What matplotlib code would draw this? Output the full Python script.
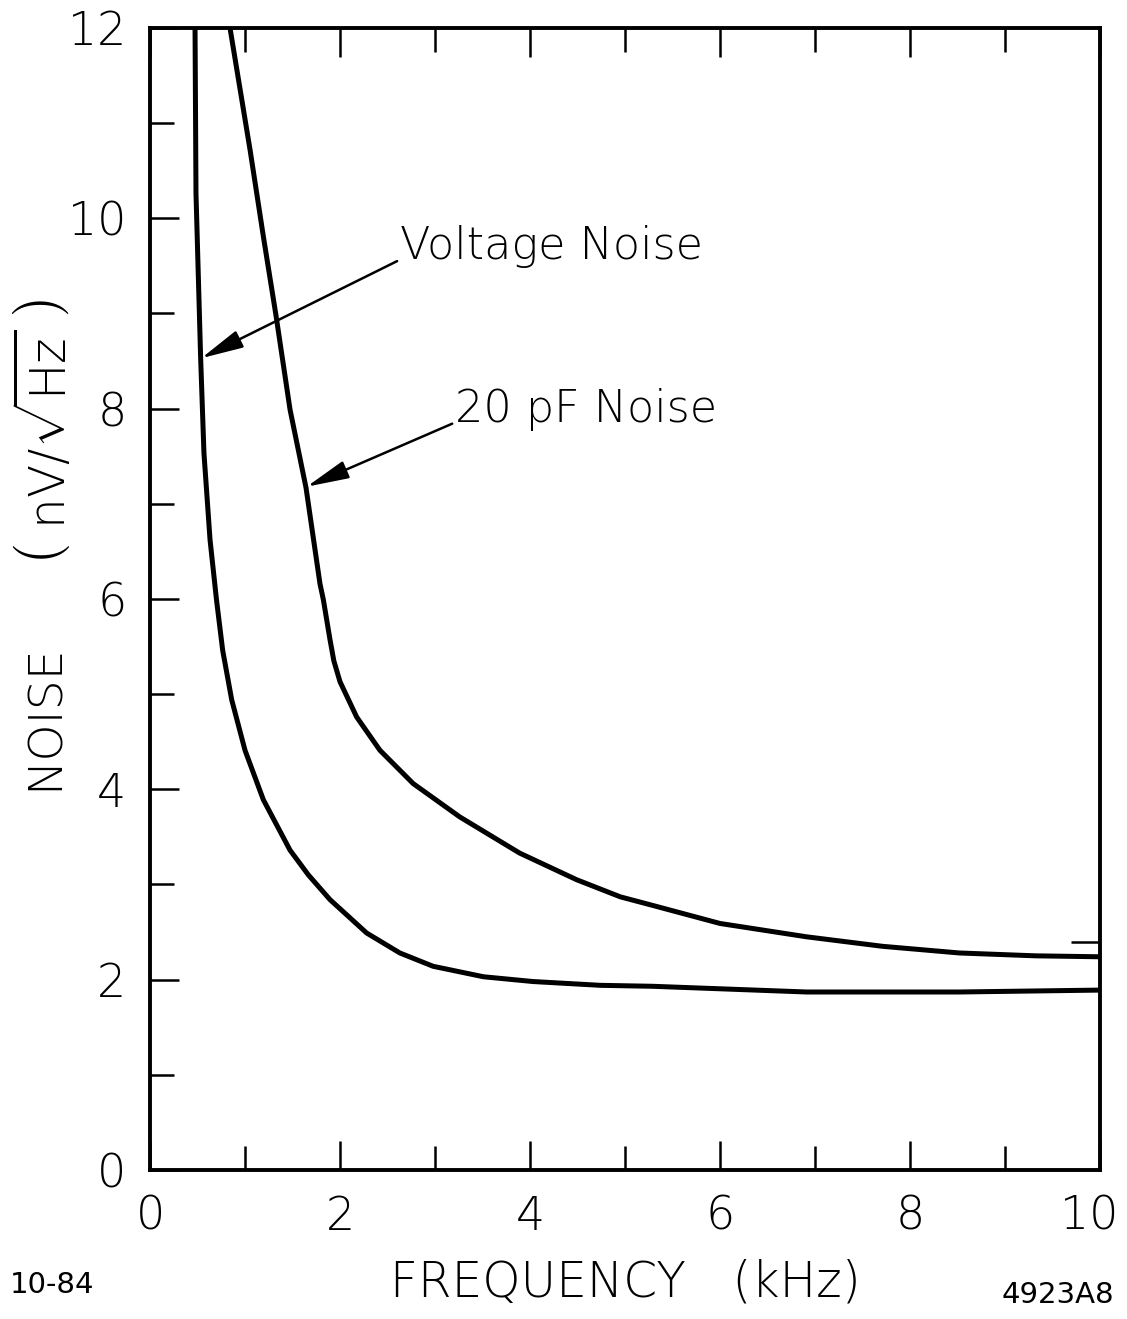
import numpy as np
import matplotlib.pyplot as plt
from matplotlib.transforms import ScaledTranslation

plt.switch_backend('Agg')
plt.rcParams['font.family'] = ['DejaVu Sans']
plt.rcParams['mathtext.fontset'] = 'custom'
plt.rcParams['mathtext.rm'] = 'DejaVu Sans:light'
plt.rcParams['mathtext.it'] = 'DejaVu Sans:light'

# Noise spectral density (kHz, nV/sqrt(Hz))
volt_freq = [0.474, 0.484, 0.533, 0.568, 0.632, 0.70, 0.765, 0.86, 1.0, 1.193,
             1.474, 1.667, 1.895, 2.28, 2.63, 2.98, 3.51, 4.03, 4.74, 5.29,
             6.91, 8.52, 10.0]
volt_noise = [12.0, 10.26, 8.53, 7.53, 6.62, 5.99, 5.46, 4.94, 4.41, 3.89,
              3.36, 3.10, 2.84, 2.49, 2.28, 2.14, 2.03, 1.98, 1.94, 1.93,
              1.87, 1.87, 1.89]

cap_freq = [0.842, 1.053, 1.193, 1.326, 1.474, 1.642, 1.789, 1.825, 1.895, 1.935,
            2.0, 2.175, 2.245, 2.42, 2.77, 3.26, 3.89, 4.49, 4.95, 5.29,
            6.0, 6.91, 7.71, 8.52, 9.32, 10.0]
cap_noise = [12.0, 10.72, 9.81, 8.98, 7.99, 7.17, 6.16, 5.99, 5.57, 5.35,
             5.13, 4.76, 4.66, 4.41, 4.06, 3.71, 3.33, 3.05, 2.87, 2.78,
             2.59, 2.45, 2.35, 2.28, 2.25, 2.24]

x_ticks = [0, 2, 4, 6, 8, 10]
y_ticks = [0, 2, 4, 6, 8, 10, 12]
x_minor = [1, 3, 5, 7, 9]
y_minor = [1, 3, 5, 7, 9, 11]
right_extra = [2.4]

fig = plt.figure(figsize=(11.27, 13.19), dpi=100)
ax = fig.add_axes([0.1331, 0.1130, 0.8430, 0.8658])

ax.plot(volt_freq, volt_noise, color='black', lw=3.6, solid_joinstyle='round')
ax.plot(cap_freq, cap_noise, color='black', lw=3.6, solid_joinstyle='round')

ax.set_xlim(0, 10)
ax.set_ylim(0, 12)
ax.set_xticks(x_ticks)
ax.set_yticks(y_ticks)
ax.set_xticks(x_minor, minor=True)
ax.set_yticks(y_minor, minor=True)
ax.set_xticklabels([str(v) for v in x_ticks])
ax.set_yticklabels([str(v) for v in y_ticks])

for side in ax.spines.values():
    side.set_linewidth(2.8)

ax.tick_params(which='both', direction='in', top=True, right=True,
               width=1.8, color='black')
ax.tick_params(which='major', length=21, labelsize=33)
ax.tick_params(axis='x', which='major', pad=18)
ax.tick_params(axis='y', which='major', pad=17)
ax.tick_params(which='minor', length=17)
for lab in ax.get_xticklabels() + ax.get_yticklabels():
    lab.set_fontweight('light')
# keep the last frequency label inside the figure
last = ax.get_xticklabels()[-1]
last.set_transform(last.get_transform() + ScaledTranslation(-8 / 72, 0, fig.dpi_scale_trans))

# extra mark on the right edge
ax2 = ax.twinx()
ax2.set_ylim(ax.get_ylim())
ax2.set_yticks(right_extra)
ax2.tick_params(direction='in', length=21, width=1.8, labelright=False)
for side in ax2.spines.values():
    side.set_visible(False)

ax.set_xlabel('FREQUENCY   (kHz)', fontsize=35, fontweight='light', labelpad=14)

# y label in two parts: the quantity and its (larger, spaced) unit
ax.text(-0.1105, 0.397, 'NOISE', transform=ax.transAxes, rotation=90,
        fontsize=34, fontweight='light', ha='center', va='center')
ax.text(-0.1105, 0.646, r'$\left(\ \mathrm{nV}/\sqrt{\mathrm{Hz}}\ \right)$',
        transform=ax.transAxes, rotation=90, fontsize=35, ha='center', va='center')

arrow = dict(arrowstyle='-|>,head_length=1.3,head_width=0.28', color='black',
             lw=1.8, shrinkA=0, shrinkB=0, mutation_scale=20, relpos=(0, 0.2))
ax.annotate('Voltage Noise', xy=(0.54, 8.53), xytext=(2.63, 9.70),
            fontsize=32, fontweight='light', va='center', ha='left',
            arrowprops=arrow)
ax.annotate('20 pF Noise', xy=(1.65, 7.18), xytext=(3.21, 7.99),
            fontsize=32, fontweight='light', va='center', ha='left',
            arrowprops=arrow)

fig.text(0.009, 0.0258, '10-84', fontsize=21, ha='left', va='center')
fig.text(0.989, 0.0182, '4923A8', fontsize=21, ha='right', va='center')

fig.savefig('out.png', dpi=100, facecolor='white')
